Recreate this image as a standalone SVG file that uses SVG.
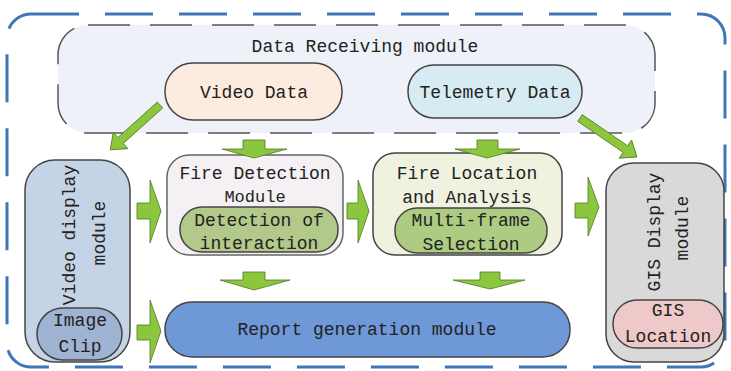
<svg xmlns="http://www.w3.org/2000/svg" width="731" height="371" viewBox="0 0 731 371">
<style>
text{font-family:"Liberation Mono","DejaVu Sans Mono",monospace;font-size:18px;fill:#222;text-anchor:middle;dominant-baseline:central}
.box{stroke:#444;stroke-width:1.5}
.arr{fill:#8cc63f;stroke:#4f7a1f;stroke-width:0.8}
</style>
<rect width="731" height="371" fill="#ffffff"/>
<rect x="7" y="14" width="718" height="353" rx="24" fill="none" stroke="#3f76b8" stroke-width="3" stroke-dasharray="48 26"/>
<g id="data-receiving">
<rect x="58" y="25" width="597" height="108" rx="30" fill="#eef2f8" stroke="#555" stroke-width="1.5" stroke-dasharray="42 20"/>
<text x="365" y="47">Data Receiving module</text>
</g>
<g id="video-data">
<rect class="box" x="165" y="63" width="177" height="57" rx="28" fill="#fcebdf"/>
<text x="254" y="93">Video Data</text>
</g>
<g id="telemetry-data">
<rect class="box" x="408" y="65" width="174" height="53" rx="26" fill="#d6ebf2"/>
<text x="495" y="93">Telemetry Data</text>
</g>
<g id="video-display">
<rect class="box" x="25" y="160" width="105" height="202" rx="30" fill="#c5d3e6"/>
<text transform="translate(70,235) rotate(-90)">Video display</text>
<text transform="translate(100,233) rotate(-90)">module</text>
</g>
<g id="image-clip">
<rect class="box" x="37" y="308" width="85" height="52" rx="26" fill="#9fb4d2"/>
<text x="80" y="321">Image</text>
<text x="80" y="347">Clip</text>
</g>
<g id="fire-detection">
<rect x="167" y="155" width="176" height="100" rx="22" fill="#f5f0f4" stroke="#666" stroke-width="1.5"/>
<text x="255" y="174">Fire Detection</text>
<text x="255" y="197" style="font-size:17px">Module</text>
</g>
<g id="detection-interaction">
<rect class="box" x="180" y="207" width="158" height="45" rx="22" fill="#b3c98a"/>
<text x="259" y="221">Detection of</text>
<text x="259" y="244">interaction</text>
</g>
<g id="fire-location">
<rect x="373" y="153" width="189" height="102" rx="22" fill="#eef2df" stroke="#444" stroke-width="1.5"/>
<text x="467" y="174">Fire Location</text>
<text x="467" y="198">and Analysis</text>
</g>
<g id="multi-frame">
<rect class="box" x="395" y="208" width="152" height="45" rx="22" fill="#aecb82"/>
<text x="471" y="221">Multi-frame</text>
<text x="471" y="245">Selection</text>
</g>
<g id="gis-display">
<rect class="box" x="606" y="163" width="118" height="199" rx="28" fill="#d9d9d9"/>
<text transform="translate(655,232) rotate(-90)">GIS Display</text>
<text transform="translate(683,228) rotate(-90)">module</text>
</g>
<g id="gis-location">
<rect class="box" x="613" y="300" width="110" height="48" rx="24" fill="#efc9c9"/>
<text x="668" y="311">GIS</text>
<text x="668" y="337">Location</text>
</g>
<g id="report-generation">
<rect class="box" x="165" y="302" width="405" height="55" rx="27" fill="#6e98d8"/>
<text x="367" y="330">Report generation module</text>
</g>
<g id="connectors">
<polygon class="arr" transform="translate(160,105) rotate(138)" points="0,-4 53,-4 53,-11 67,0 53,11 53,4 0,4"/>
<polygon class="arr" transform="translate(580,118) rotate(34.4)" points="0,-4 55,-4 55,-11 69,0 55,11 55,4 0,4"/>
<polygon class="arr" points="243,140 265,140 265,149 287,149 254,158 222,149 243,149"/>
<polygon class="arr" points="477,140 498,140 498,149 520,149 487,158 455,149 477,149"/>
<polygon class="arr" points="137,203 150,203 150,180 161,211 150,243 150,219 137,219"/>
<polygon class="arr" points="347,203 358,203 358,180 369,211 358,243 358,219 347,219"/>
<polygon class="arr" points="575,203 588,203 588,177 599,207 588,236 588,218 575,218"/>
<polygon class="arr" points="137,325 150,325 150,300 161,331 150,363 150,340 137,340"/>
<polygon class="arr" points="243,272 265,272 265,280 290,280 254,290 220,280 243,280"/>
<polygon class="arr" points="480,272 500,272 500,280 525,280 490,289 453,280 480,280"/>
</g>
</svg>
